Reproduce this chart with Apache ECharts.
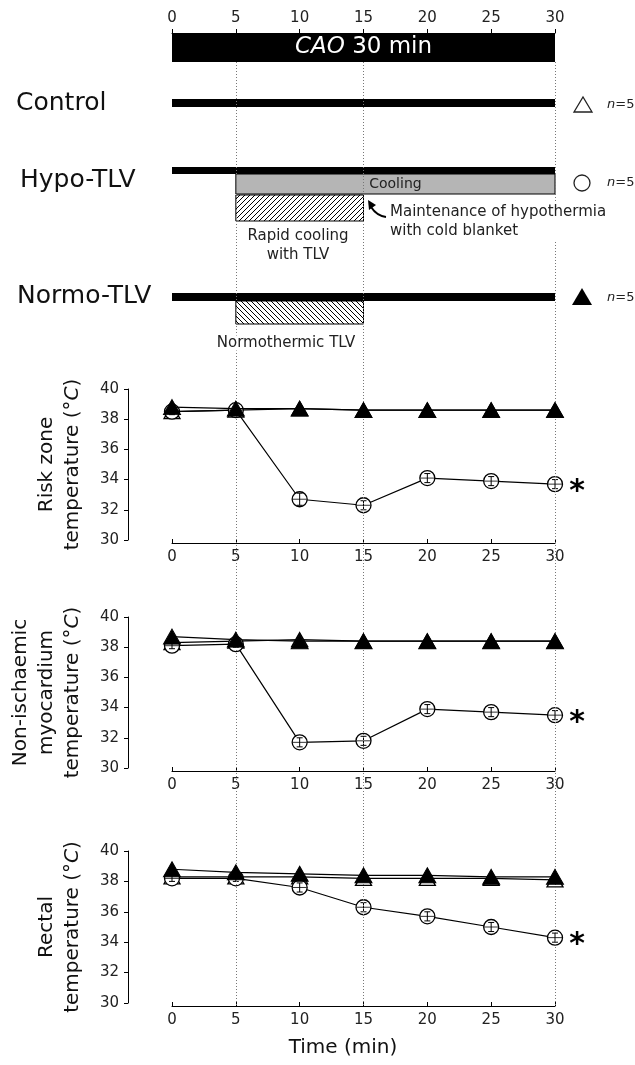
<!DOCTYPE html>
<html><head><meta charset="utf-8">
<script src="https://cdn.jsdelivr.net/npm/echarts@6/dist/echarts.min.js"></script>
<style>html,body{margin:0;padding:0;background:#fff}#c{width:635px;height:1065px}</style>
</head><body><div id="c"></div><script>
// ---------- data ----------
const times = [0, 5, 10, 15, 20, 25, 30];
const tempTicks = [30, 32, 34, 36, 38, 40];
const groups = ['Control', 'Hypo-TLV', 'Normo-TLV'];
const groupN = [5, 5, 5];
// protocol spans (min)
const caoSpan = [0, 30];
const controlSpan = [0, 30];
const hypoSpan = [0, 30];
const coolingSpan = [5, 30];
const rapidCoolingSpan = [5, 15];
const normoSpan = [0, 30];
const normoTlvSpan = [5, 15];
const markerTimes = [5, 15, 30];

// Risk zone temperature
const riskControl = [38.5, 38.6, 38.7, 38.6, 38.6, 38.6, 38.6];
const riskHypo    = [38.5, 38.6, 32.7, 32.3, 34.1, 33.9, 33.7];
const riskHypoErr = [0.2, 0.2, 0.4, 0.3, 0.3, 0.3, 0.3];
const riskNormo   = [38.8, 38.7, 38.7, 38.6, 38.6, 38.6, 38.6];
// Non-ischaemic myocardium temperature
const nonControl = [38.3, 38.4, 38.5, 38.4, 38.4, 38.4, 38.4];
const nonHypo    = [38.1, 38.2, 31.7, 31.8, 33.9, 33.7, 33.5];
const nonHypoErr = [0.2, 0.2, 0.3, 0.3, 0.3, 0.3, 0.3];
const nonNormo   = [38.7, 38.5, 38.4, 38.4, 38.4, 38.4, 38.4];
// Rectal temperature
const rectControl = [38.3, 38.3, 38.3, 38.2, 38.2, 38.2, 38.1];
const rectHypo    = [38.2, 38.2, 37.6, 36.3, 35.7, 35.0, 34.3];
const rectHypoErr = [0.2, 0.2, 0.3, 0.3, 0.3, 0.3, 0.3];
const rectNormo   = [38.8, 38.6, 38.5, 38.4, 38.4, 38.3, 38.3];

// ---------- rendering ----------
const FONT = '"DejaVu Sans", "Noto Sans", sans-serif';
const L = 172, R = 80;

function hatch(dir) {
  const s = 5, c = document.createElement('canvas');
  c.width = s; c.height = s;
  const g = c.getContext('2d');
  g.fillStyle = '#fff'; g.fillRect(0, 0, s, s);
  g.strokeStyle = '#000'; g.lineWidth = 1;
  g.beginPath();
  if (dir > 0) {
    g.moveTo(-1, s + 1); g.lineTo(s + 1, -1);
    g.moveTo(-1, 1); g.lineTo(1, -1);
    g.moveTo(s - 1, s + 1); g.lineTo(s + 1, s - 1);
  } else {
    g.moveTo(-1, -1); g.lineTo(s + 1, s + 1);
    g.moveTo(s - 1, -1); g.lineTo(s + 1, 1);
    g.moveTo(-1, s - 1); g.lineTo(1, s + 1);
  }
  g.stroke();
  return c;
}
const hatchA = hatch(1), hatchB = hatch(-1);

// vertical layout of protocol rows (offsets in the protocol grid)
const protoBars = [
  { span: caoSpan, y: [0, 29], fill: '#000', text: 'cao' },
  { span: controlSpan, y: [66, 74], fill: '#000' },
  { span: hypoSpan, y: [134, 141], fill: '#000' },
  { span: coolingSpan, y: [141, 161], fill: '#b5b5b5', stroke: '#000', text: 'Cooling' },
  { span: rapidCoolingSpan, y: [162, 188], fill: { image: hatchA, repeat: 'repeat' }, stroke: '#000' },
  { span: normoSpan, y: [260, 268], fill: '#000' },
  { span: normoTlvSpan, y: [268, 291], fill: { image: hatchB, repeat: 'repeat' }, stroke: '#000' }
];

const panels = [
  { top: 389, height: 151, control: riskControl, hypo: riskHypo, err: riskHypoErr, normo: riskNormo,
    title: 'Risk zone\ntemperature (°{i|C})', tx: 60 },
  { top: 617, height: 151, control: nonControl, hypo: nonHypo, err: nonHypoErr, normo: nonNormo,
    title: 'Non-ischaemic\nmyocardium\ntemperature (°{i|C})', tx: 47 },
  { top: 851, height: 152, control: rectControl, hypo: rectHypo, err: rectHypoErr, normo: rectNormo,
    title: 'Rectal\ntemperature (°{i|C})', tx: 60 }
];

const grid = [
  { left: L, right: R, top: 33, height: 312 },
  ...panels.map(p => ({ left: L, right: R, top: p.top, height: p.height })),
  { left: L, right: R, top: 62, height: 943 }
];

const xAxis = [
  { gridIndex: 0, type: 'value', position: 'top', min: 0, max: 30, interval: 5,
    axisLine: { show: true, onZero: false, lineStyle: { color: '#000', width: 1 } },
    axisTick: { show: true, length: 4, lineStyle: { color: '#000' } },
    axisLabel: { fontSize: 15, color: '#222', margin: 7, fontFamily: FONT },
    splitLine: { show: false } },
  ...panels.map((p, i) => ({
    gridIndex: i + 1, type: 'value', min: 0, max: 30, interval: 5, offset: 3, position: 'bottom',
    axisLine: { show: true, onZero: false, lineStyle: { color: '#000', width: 1 } },
    axisTick: { show: true, inside: true, length: 4, lineStyle: { color: '#000' } },
    axisLabel: { fontSize: 15, color: '#222', margin: 7, fontFamily: FONT },
    splitLine: { show: false } })),
  { gridIndex: 4, type: 'value', min: 0, max: 30, show: false }
];

const yAxis = [
  { gridIndex: 0, type: 'value', min: 0, max: 312, inverse: true, show: false },
  ...panels.map((p, i) => ({
    gridIndex: i + 1, type: 'value', position: 'left', min: tempTicks[0], max: tempTicks[tempTicks.length - 1], interval: 2, offset: 44,
    axisLine: { show: true, onZero: false, lineStyle: { color: '#000', width: 1 } },
    axisTick: { show: true, length: 4, lineStyle: { color: '#000' } },
    axisLabel: { fontSize: 15, color: '#222', margin: 9, fontFamily: FONT },
    splitLine: { show: false } })),
  { gridIndex: 4, type: 'value', min: 0, max: 1, show: false }
];

const series = [];
// dotted time markers
series.push({
  type: 'line', xAxisIndex: 4, yAxisIndex: 4, data: [], silent: true, z: 0,
  markLine: { silent: true, symbol: 'none', label: { show: false },
    lineStyle: { type: [1, 2], color: '#777', width: 1 },
    data: markerTimes.map(t => ({ xAxis: t })) }
});
// protocol bars
series.push({
  type: 'custom', xAxisIndex: 0, yAxisIndex: 0, z: 3, silent: true,
  data: protoBars.map(b => [b.span[0], b.span[1], b.y[0], b.y[1]]),
  encode: { x: [0, 1], y: [2, 3] },
  renderItem: (params, api) => {
    const b = protoBars[params.dataIndex];
    const p0 = api.coord([api.value(0), api.value(2)]);
    const p1 = api.coord([api.value(1), api.value(3)]);
    const children = [{ type: 'rect',
      shape: { x: p0[0], y: p0[1], width: p1[0] - p0[0], height: p1[1] - p0[1] },
      style: { fill: b.fill, stroke: b.stroke || null, lineWidth: 1 } }];
    if (b.text === 'cao') {
      children.push({ type: 'text', x: (p0[0] + p1[0]) / 2, y: (p0[1] + p1[1]) / 2,
        style: { text: '{i|CAO} 30 min', fill: '#fff', font: '23px ' + FONT, align: 'center', verticalAlign: 'middle',
          rich: { i: { fontStyle: 'italic', fontSize: 23, fontFamily: FONT, fill: '#fff' } } } });
    } else if (b.text) {
      children.push({ type: 'text', x: (p0[0] + p1[0]) / 2, y: (p0[1] + p1[1]) / 2,
        style: { text: b.text, fill: '#222', font: '14px ' + FONT, align: 'center', verticalAlign: 'middle' } });
    }
    return { type: 'group', children };
  }
});

panels.forEach((p, i) => {
  const ax = i + 1;
  const pts = arr => times.map((t, k) => [t, arr[k]]);
  series.push({ type: 'line', name: groups[0], xAxisIndex: ax, yAxisIndex: ax, data: pts(p.control), z: 2,
    symbol: 'triangle', symbolSize: [16, 14], showAllSymbol: true,
    itemStyle: { color: '#fff', borderColor: '#000', borderWidth: 1.3 },
    lineStyle: { color: '#000', width: 1.2 } });
  series.push({ type: 'line', name: groups[1], xAxisIndex: ax, yAxisIndex: ax, data: pts(p.hypo), z: 3,
    symbol: 'circle', symbolSize: 15,
    itemStyle: { color: '#fff', borderColor: '#000', borderWidth: 1.3 },
    lineStyle: { color: '#000', width: 1.2 },
    label: { show: true, position: 'right', distance: 6, offset: [0, 8], fontSize: 30, fontWeight: 'bold', color: '#000',
      fontFamily: FONT, formatter: q => q.dataIndex === times.length - 1 ? '*' : '' } });
  series.push({ type: 'custom', xAxisIndex: ax, yAxisIndex: ax, z: 4, silent: true,
    data: times.map((t, k) => [t, p.hypo[k], p.err[k]]),
    encode: { x: 0, y: 1 },
    renderItem: (params, api) => {
      const x = api.value(0), m = api.value(1), e = api.value(2);
      const hi = api.coord([x, m + e]), lo = api.coord([x, m - e]), c = api.coord([x, m]);
      const st = { stroke: '#000', lineWidth: 1 };
      return { type: 'group', children: [
        { type: 'line', shape: { x1: hi[0], y1: hi[1], x2: lo[0], y2: lo[1] }, style: st },
        { type: 'line', shape: { x1: hi[0] - 3, y1: hi[1], x2: hi[0] + 3, y2: hi[1] }, style: st },
        { type: 'line', shape: { x1: lo[0] - 3, y1: lo[1], x2: lo[0] + 3, y2: lo[1] }, style: st },
        { type: 'line', shape: { x1: c[0] - 7, y1: c[1], x2: c[0] + 7, y2: c[1] }, style: { stroke: '#000', lineWidth: 0.8 } }
      ] };
    } });
  series.push({ type: 'line', name: groups[2], xAxisIndex: ax, yAxisIndex: ax, data: pts(p.normo), z: 5,
    symbol: 'triangle', symbolSize: [17, 15],
    itemStyle: { color: '#000', borderColor: '#000', borderWidth: 1 },
    lineStyle: { color: '#000', width: 1.2 } });
});

const graphic = [];
// row labels
[['Control', 16, 103], ['Hypo-TLV', 20, 180], ['Normo-TLV', 17, 296]].forEach(([t, x, y], k) => {
  graphic.push({ type: 'text', x, y, z: 10, style: { text: groups[k], font: '25px ' + FONT, fill: '#111', verticalAlign: 'middle' } });
});
// legend symbols
graphic.push({ type: 'polygon', z: 10, shape: { points: [[574, 112], [592, 112], [583, 97]] }, style: { fill: '#fff', stroke: '#222', lineWidth: 1.3 } });
graphic.push({ type: 'circle', z: 10, shape: { cx: 582, cy: 183, r: 8 }, style: { fill: '#fff', stroke: '#222', lineWidth: 1.3 } });
graphic.push({ type: 'polygon', z: 10, shape: { points: [[572, 305], [592, 305], [582, 288]] }, style: { fill: '#000' } });
[105, 183, 298].forEach((y, k) => {
  graphic.push({ type: 'text', x: 607, y, z: 10, style: { text: '{i|n}=' + groupN[k], font: '13px ' + FONT, fill: '#222', verticalAlign: 'middle',
    rich: { i: { fontStyle: 'italic', fontSize: 13, fontFamily: FONT } } } });
});
// annotations
graphic.push({ type: 'text', x: 298, y: 246, z: 10, style: { text: 'Rapid cooling\nwith TLV', font: '15px ' + FONT, fill: '#222', align: 'center', verticalAlign: 'middle', lineHeight: 19 } });
graphic.push({ type: 'text', x: 390, y: 222, z: 10, style: { text: 'Maintenance of hypothermia\nwith cold blanket', font: '15px ' + FONT, fill: '#222', verticalAlign: 'middle', lineHeight: 19, backgroundColor: '#fff' } });
graphic.push({ type: 'text', x: 286, y: 343, z: 10, style: { text: 'Normothermic TLV', font: '15px ' + FONT, fill: '#222', align: 'center', verticalAlign: 'middle', backgroundColor: '#fff' } });
// curved arrow
graphic.push({ type: 'bezierCurve', z: 10, shape: { x1: 386, y1: 217, cpx1: 377, cpy1: 216, x2: 371, y2: 207 }, style: { stroke: '#000', lineWidth: 2, fill: null } });
graphic.push({ type: 'polygon', z: 10, shape: { points: [[368, 200], [376, 205], [369, 210]] }, style: { fill: '#000' } });
// y-axis titles
panels.forEach(p => {
  graphic.push({ type: 'text', x: p.tx, y: p.top + p.height / 2, rotation: Math.PI / 2, z: 10,
    style: { text: p.title, font: '20px ' + FONT, fill: '#111', align: 'center', verticalAlign: 'middle', lineHeight: 26,
      rich: { i: { fontStyle: 'italic', fontSize: 20, fontFamily: FONT, fill: '#111' } } } });
});
graphic.push({ type: 'text', x: 343, y: 1048, z: 10, style: { text: 'Time (min)', font: '20px ' + FONT, fill: '#111', align: 'center', verticalAlign: 'middle' } });

const chart = echarts.init(document.getElementById('c'), null, { renderer: 'canvas' });
chart.setOption({ backgroundColor: '#fff', animation: false, textStyle: { fontFamily: FONT }, grid, xAxis, yAxis, series, graphic });
</script></body></html>
